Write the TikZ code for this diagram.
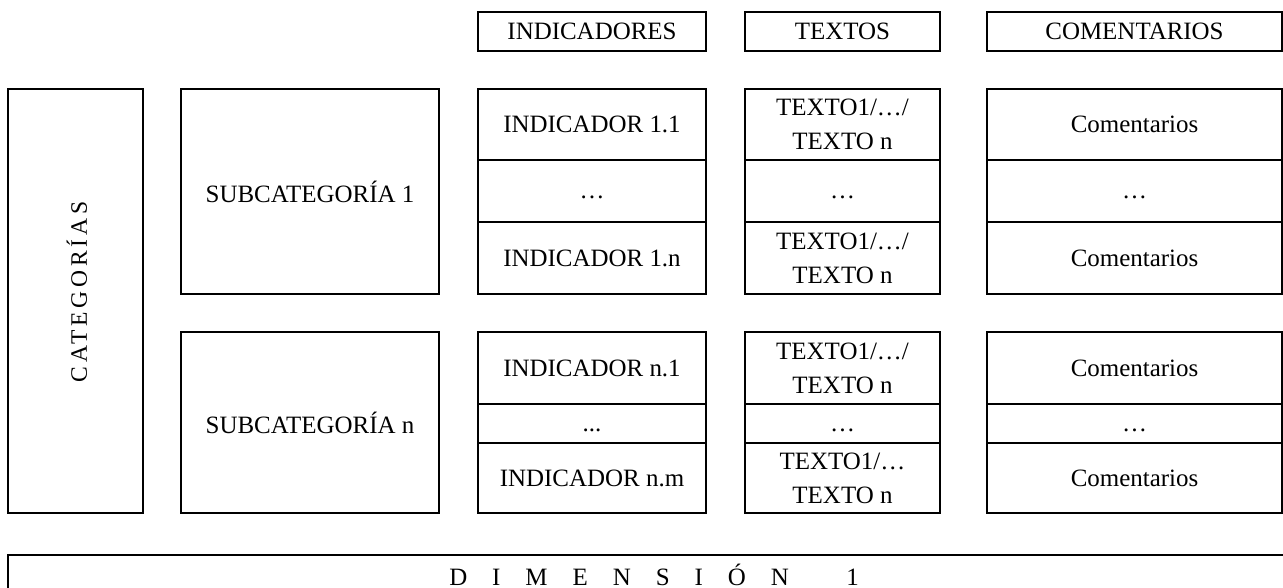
\documentclass[tikz,border=0pt]{standalone}
\usepackage{fontspec}
\setmainfont{Liberation Serif}
\newfontfamily\spacedfont[LetterSpace=16]{Liberation Serif}
\usepackage{tikz}
\usetikzlibrary{positioning}
\tikzset{cell/.style={draw, line width=0.7pt, align=center, inner sep=0pt, font=\fontsize{14.2}{19.3}\selectfont}}
\tikzset{indcol/.style={cell, minimum width=4.56cm}}
\tikzset{texcol/.style={cell, minimum width=3.90cm}}
\tikzset{comcol/.style={cell, minimum width=5.90cm}}
\newcommand{\dotsrow}{\vphantom{I}…}

\begin{document}
\begin{tikzpicture}
\useasboundingbox (0,0) rectangle (25.66,11.76);
\clip (0,0) rectangle (25.66,11.76);
% column headers
\node[indcol, minimum height=0.78cm] (hind) at (11.84,11.13) {INDICADORES};
\node[texcol, minimum height=0.78cm] (htex) at (16.85,11.13) {TEXTOS};
\node[comcol, minimum height=0.78cm] (hcom) at (22.69,11.13) {COMENTARIOS};
% categories and subcategories
\node[cell, minimum width=2.70cm, minimum height=8.48cm] (cat) at (1.51,5.74) {};
\node[font=\spacedfont\fontsize{13.4}{16}\selectfont, rotate=90] (catlabel) at (1.54,5.92) {CATEGORÍAS};
\node[cell, minimum width=5.16cm, minimum height=4.10cm] (sub1) at (6.20,7.93) {SUBCATEGORÍA 1};
\node[cell, minimum width=5.16cm, minimum height=3.62cm] (subn) at (6.20,3.31) {SUBCATEGORÍA n};
% first group
\node[indcol, minimum height=1.42cm] (ind11) at (11.84,9.27) {INDICADOR 1.1};
\node[indcol, minimum height=1.24cm] (ind1d) at (11.84,7.94) {\dotsrow};
\node[indcol, minimum height=1.44cm] (ind1n) at (11.84,6.60) {INDICADOR 1.n};
\node[texcol, minimum height=1.42cm] (tex11) at (16.85,9.27) {TEXTO1/…/\\TEXTO n};
\node[texcol, minimum height=1.24cm] (tex1d) at (16.85,7.94) {\dotsrow};
\node[texcol, minimum height=1.44cm] (tex1n) at (16.85,6.60) {TEXTO1/…/\\TEXTO n};
\node[comcol, minimum height=1.42cm] (com11) at (22.69,9.27) {Comentarios};
\node[comcol, minimum height=1.24cm] (com1d) at (22.69,7.94) {\dotsrow};
\node[comcol, minimum height=1.44cm] (com1n) at (22.69,6.60) {Comentarios};
% second group
\node[indcol, minimum height=1.44cm] (indn1) at (11.84,4.40) {INDICADOR n.1};
\node[indcol, minimum height=0.78cm] (indnd) at (11.84,3.29) {\vphantom{I}...};
\node[indcol, minimum height=1.40cm] (indnm) at (11.84,2.20) {INDICADOR n.m};
\node[texcol, minimum height=1.44cm] (texn1) at (16.85,4.40) {TEXTO1/…/\\TEXTO n};
\node[texcol, minimum height=0.78cm] (texnd) at (16.85,3.29) {\dotsrow};
\node[texcol, minimum height=1.40cm] (texnm) at (16.85,2.20) {TEXTO1/…\\TEXTO n};
\node[comcol, minimum height=1.44cm] (comn1) at (22.69,4.40) {Comentarios};
\node[comcol, minimum height=0.78cm] (comnd) at (22.69,3.29) {\dotsrow};
\node[comcol, minimum height=1.40cm] (comnm) at (22.69,2.20) {Comentarios};
% dimension
\node[cell, minimum width=25.84cm, minimum height=0.80cm] (dim) at (13.08,0.26) {D\quad I\quad M\quad E\quad N\quad S\quad I\quad Ó\quad N\hspace{2.3em}1};
\end{tikzpicture}
\end{document}
